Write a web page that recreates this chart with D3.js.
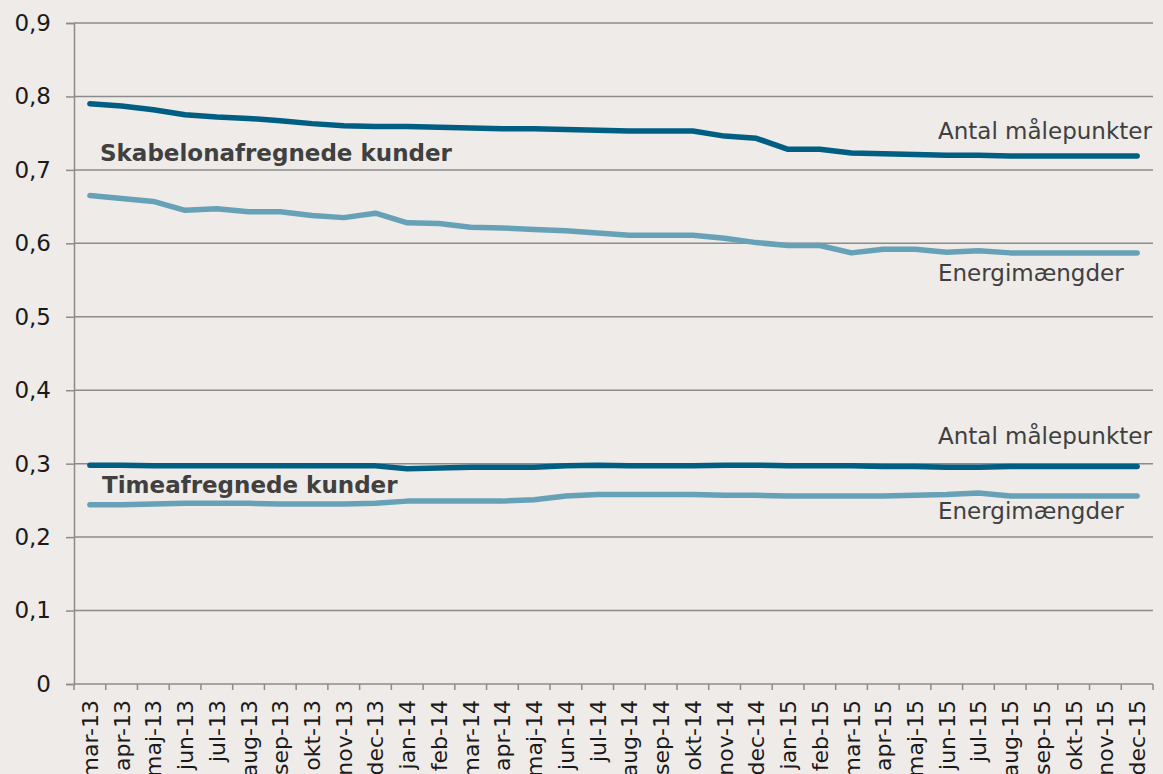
<!DOCTYPE html>
<html>
<head>
<meta charset="utf-8">
<script src="https://cdn.jsdelivr.net/npm/d3@7"></script>
<style>
  html, body { margin: 0; padding: 0; background: #eeebe8; overflow: hidden; }
  svg { display: block; font-family: "DejaVu Sans", Verdana, sans-serif; }
  .series-label { fill: #404040; font-size: 23px; }
  .group-label { fill: #404040; font-size: 23px; font-weight: bold; }
</style>
</head>
<body>
<svg id="chart"></svg>
<script>
// Months on the x axis
const months = ['mar-13', 'apr-13', 'maj-13', 'jun-13', 'jul-13', 'aug-13', 'sep-13', 'okt-13', 'nov-13', 'dec-13',
  'jan-14', 'feb-14', 'mar-14', 'apr-14', 'maj-14', 'jun-14', 'jul-14', 'aug-14', 'sep-14', 'okt-14', 'nov-14', 'dec-14',
  'jan-15', 'feb-15', 'mar-15', 'apr-15', 'maj-15', 'jun-15', 'jul-15', 'aug-15', 'sep-15', 'okt-15', 'nov-15', 'dec-15'];

// Skabelonafregnede kunder
const skabelonAntal = [0.790, 0.787, 0.782, 0.775, 0.772, 0.770, 0.767, 0.763, 0.760, 0.759,
  0.759, 0.758, 0.757, 0.756, 0.756, 0.755, 0.754, 0.753, 0.753, 0.753, 0.746, 0.743,
  0.728, 0.728, 0.723, 0.722, 0.721, 0.720, 0.720, 0.719, 0.719, 0.719, 0.719, 0.719];
const skabelonEnergi = [0.665, 0.661, 0.657, 0.645, 0.647, 0.643, 0.643, 0.638, 0.635, 0.641,
  0.628, 0.627, 0.622, 0.621, 0.619, 0.617, 0.614, 0.611, 0.611, 0.611, 0.607, 0.601,
  0.597, 0.597, 0.587, 0.592, 0.592, 0.588, 0.590, 0.587, 0.587, 0.587, 0.587, 0.587];

// Timeafregnede kunder
const timeAntal = [0.298, 0.298, 0.297, 0.297, 0.297, 0.297, 0.297, 0.297, 0.297, 0.297,
  0.293, 0.294, 0.295, 0.295, 0.295, 0.297, 0.298, 0.297, 0.297, 0.297, 0.298, 0.298,
  0.297, 0.297, 0.297, 0.296, 0.296, 0.295, 0.295, 0.296, 0.296, 0.296, 0.296, 0.296];
const timeEnergi = [0.244, 0.244, 0.245, 0.246, 0.246, 0.246, 0.245, 0.245, 0.245, 0.246,
  0.249, 0.249, 0.249, 0.249, 0.251, 0.256, 0.258, 0.258, 0.258, 0.258, 0.257, 0.257,
  0.256, 0.256, 0.256, 0.256, 0.257, 0.258, 0.260, 0.256, 0.256, 0.256, 0.256, 0.256];

const yTicks = [0, 0.1, 0.2, 0.3, 0.4, 0.5, 0.6, 0.7, 0.8, 0.9];

const dark = '#005e82';
const light = '#67a1b7';
const gridColor = '#8c8c8c';

const width = 1163, height = 774;
const margin = { top: 23, right: 10, bottom: 90, left: 74 };

const svg = d3.select('#chart').attr('width', width).attr('height', height);

const x = d3.scaleBand().domain(months).range([margin.left, width - margin.right]);
const y = d3.scaleLinear().domain([0, 0.9]).range([height - margin.bottom, margin.top]);

const fmt = d => d === 0 ? '0' : d3.format('.1f')(d).replace('.', ',');

// gridlines
svg.append('g')
  .selectAll('line')
  .data(yTicks.filter(d => d > 0))
  .join('line')
  .attr('x1', margin.left).attr('x2', width - margin.right)
  .attr('y1', d => y(d)).attr('y2', d => y(d))
  .attr('stroke', gridColor).attr('stroke-width', 1.5);

// y axis
const yAxisG = svg.append('g')
  .attr('transform', `translate(${margin.left},0)`)
  .call(d3.axisLeft(y).tickValues(yTicks).tickSize(8).tickPadding(15).tickFormat(fmt));
yAxisG.attr('font-family', null).attr('font-size', null);
yAxisG.select('.domain').attr('stroke', gridColor).attr('stroke-width', 1.5);
yAxisG.selectAll('.tick line').attr('stroke', gridColor).attr('stroke-width', 1.5);
yAxisG.selectAll('.tick text').attr('font-size', 23).attr('fill', '#1a1a1a');

// x axis with ticks at band edges
const xAxisG = svg.append('g')
  .attr('transform', `translate(0,${y(0)})`);
xAxisG.append('line')
  .attr('x1', margin.left).attr('x2', width - margin.right)
  .attr('stroke', gridColor).attr('stroke-width', 1.5);
xAxisG.selectAll('.edge')
  .data(d3.range(months.length + 1))
  .join('line')
  .attr('class', 'edge')
  .attr('x1', i => margin.left + i * x.step())
  .attr('x2', i => margin.left + i * x.step())
  .attr('y1', 0).attr('y2', 6)
  .attr('stroke', gridColor).attr('stroke-width', 1.5);
xAxisG.selectAll('text')
  .data(months)
  .join('text')
  .attr('transform', d => `translate(${x(d) + x.bandwidth() / 2 + 8},16) rotate(-90)`)
  .attr('text-anchor', 'end')
  .attr('font-size', 22)
  .attr('fill', '#1a1a1a')
  .text(d => d);

// lines
const line = d3.line()
  .x((d, i) => x(months[i]) + x.bandwidth() / 2)
  .y(d => y(d));

const series = [
  { values: skabelonEnergi, color: light },
  { values: skabelonAntal, color: dark },
  { values: timeEnergi, color: light },
  { values: timeAntal, color: dark }
];

svg.append('g')
  .selectAll('path')
  .data(series)
  .join('path')
  .attr('d', d => line(d.values))
  .attr('fill', 'none')
  .attr('stroke', d => d.color)
  .attr('stroke-width', 5.5)
  .attr('stroke-linecap', 'round')
  .attr('stroke-linejoin', 'round');

// group labels
svg.append('text').attr('class', 'group-label')
  .attr('x', 100).attr('y', y(0.7) - 9)
  .text('Skabelonafregnede kunder');
svg.append('text').attr('class', 'group-label')
  .attr('x', 102).attr('y', y(0.3) + 29)
  .text('Timeafregnede kunder');

// series labels
const seriesLabels = [
  { text: 'Antal målepunkter', v: 0.8, dy: 43 },
  { text: 'Energimængder', v: 0.6, dy: 38 },
  { text: 'Antal målepunkter', v: 0.3, dy: -20 },
  { text: 'Energimængder', v: 0.3, dy: 55 }
];
svg.append('g')
  .selectAll('text')
  .data(seriesLabels)
  .join('text')
  .attr('class', 'series-label')
  .attr('x', 938)
  .attr('y', d => y(d.v) + d.dy)
  .text(d => d.text);
</script>
</body>
</html>
